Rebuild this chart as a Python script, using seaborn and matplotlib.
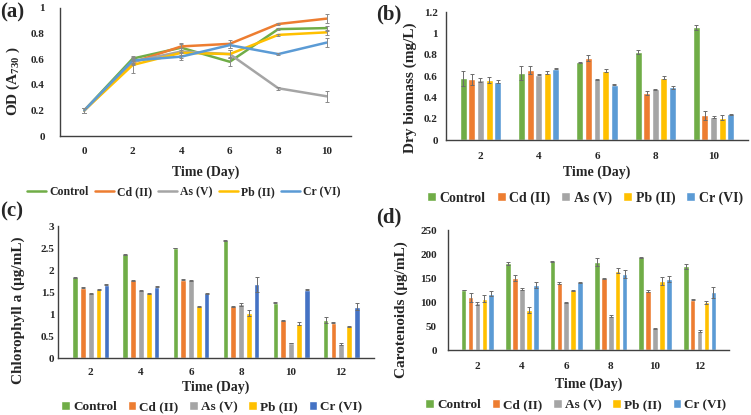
import numpy as np
import pandas as pd
import matplotlib
matplotlib.use('Agg')
import matplotlib.pyplot as plt
import seaborn as sns

# series names and colours (Excel palette)
metals = ['Control', 'Cd (II)', 'As (V)', 'Pb (II)', 'Cr (VI)']
colors = ['#70AD47', '#ED7D31', '#A5A5A5', '#FFC000', '#5B9BD5']
colors_c = ['#70AD47', '#ED7D31', '#A5A5A5', '#FFC000', '#4472C4']

# (a) optical density
od_days = [0, 2, 4, 6, 8, 10]
od_control = [0.20, 0.605, 0.69, 0.58, 0.835, 0.843]
od_cd = [0.20, 0.575, 0.70, 0.72, 0.875, 0.917]
od_as = [0.20, 0.58, 0.66, 0.64, 0.373, 0.31]
od_pb = [0.20, 0.555, 0.65, 0.64, 0.79, 0.81]
od_cr = [0.20, 0.59, 0.62, 0.71, 0.64, 0.73]
od_err_control = [0.02, 0.02, 0.03, 0.035, 0.01, 0.02]
od_err_cd = [0.02, 0.02, 0.03, 0.03, 0.01, 0.033]
od_err_as = [0.02, 0.02, 0.03, 0.03, 0.01, 0.045]
od_err_pb = [0.02, 0.06, 0.04, 0.03, 0.01, 0.02]
od_err_cr = [0.02, 0.02, 0.03, 0.02, 0.01, 0.035]

# (b) dry biomass
bm_days = [2, 4, 6, 8, 10]
bm_control = [0.58, 0.63, 0.73, 0.825, 1.055]
bm_cd = [0.57, 0.655, 0.77, 0.44, 0.23]
bm_as = [0.565, 0.61, 0.57, 0.475, 0.215]
bm_pb = [0.565, 0.63, 0.65, 0.585, 0.21]
bm_cr = [0.545, 0.67, 0.52, 0.495, 0.24]
bm_err_control = [0.07, 0.065, 0.005, 0.015, 0.025]
bm_err_cd = [0.05, 0.035, 0.025, 0.02, 0.045]
bm_err_as = [0.02, 0.005, 0.005, 0.005, 0.01]
bm_err_pb = [0.03, 0.015, 0.015, 0.015, 0.02]
bm_err_cr = [0.015, 0.005, 0.005, 0.015, 0.005]

# (c) chlorophyll a
ch_days = [2, 4, 6, 8, 10, 12]
ch_control = [1.83, 2.36, 2.50, 2.68, 1.26, 0.86]
ch_cd = [1.60, 1.77, 1.78, 1.18, 0.86, 0.80]
ch_as = [1.47, 1.54, 1.77, 1.22, 0.34, 0.32]
ch_pb = [1.56, 1.47, 1.18, 1.02, 0.78, 0.72]
ch_cr = [1.67, 1.62, 1.47, 1.68, 1.55, 1.17]
ch_err_control = [0.01, 0.01, 0.01, 0.01, 0.01, 0.07]
ch_err_cd = [0.01, 0.01, 0.01, 0.01, 0.01, 0.01]
ch_err_as = [0.01, 0.01, 0.01, 0.03, 0.01, 0.03]
ch_err_pb = [0.01, 0.01, 0.01, 0.07, 0.03, 0.01]
ch_err_cr = [0.01, 0.01, 0.01, 0.17, 0.01, 0.08]

# (d) carotenoids
ca_days = [2, 4, 6, 8, 10, 12]
ca_control = [125, 181, 185, 184, 193, 174]
ca_cd = [110, 150, 140, 149, 122, 105]
ca_as = [97, 127, 99, 71, 45, 40]
ca_pb = [107, 83, 124, 165, 144, 99]
ca_cr = [117, 135, 141, 158, 148, 120]
ca_err_control = [1, 3, 1, 8, 1, 6]
ca_err_cd = [9, 6, 2, 2, 2, 1]
ca_err_as = [3, 2, 1, 2, 1, 2]
ca_err_pb = [8, 6, 2, 5, 8, 3]
ca_err_cr = [5, 6, 1, 9, 6, 12]


def long_table(days, series, errs):
    rows = []
    for name, vals, ee in zip(metals, series, errs):
        for d, v, e in zip(days, vals, ee):
            rows.append({'day': d, 'metal': name, 'value': v, 'err': e})
    return pd.DataFrame(rows)


sns.set_theme(style='white')
plt.rcParams['font.family'] = ['Liberation Serif', 'DejaVu Serif']
plt.rcParams['font.weight'] = 'bold'
plt.rcParams['axes.labelweight'] = 'bold'
plt.rcParams['mathtext.fontset'] = 'custom'
plt.rcParams['mathtext.bf'] = 'Liberation Serif:bold'
plt.rcParams['mathtext.rm'] = 'Liberation Serif:bold'

W, H = 751, 415
fig = plt.figure(figsize=(W / 100, H / 100), dpi=100)


def make_ax(left, top, right, bottom):
    return fig.add_axes([left / W, 1 - bottom / H, (right - left) / W, (bottom - top) / H])


def style_ax(ax, ylabel, ylim, ystep, ylab_xy, xlab_y, xpad, ypad):
    ax.set_ylim(*ylim)
    ax.set_yticks(np.arange(ylim[0], ylim[1] + ystep / 2, ystep))
    ax.set_yticklabels(['{:g}'.format(round(t, 2)) for t in ax.get_yticks()])
    ax.set_xlabel('Time (Day)', fontsize=10, fontweight='bold')
    ax.set_ylabel(ylabel, fontsize=11, fontweight='bold')
    ax.yaxis.set_label_coords(*ylab_xy)
    ax.xaxis.set_label_coords(0.5, xlab_y)
    ax.tick_params(axis='both', length=0, labelsize=8)
    ax.tick_params(axis='x', pad=xpad)
    ax.tick_params(axis='y', pad=ypad)
    for lab in ax.get_xticklabels() + ax.get_yticklabels():
        lab.set_fontweight('bold')
    sns.despine(ax=ax)
    for s in ['left', 'bottom']:
        ax.spines[s].set_color('#404040')
        ax.spines[s].set_linewidth(1.0)
    ax.grid(False)


def put_legend(ax, cx, cy, size, spacing, bars=True):
    handles, labels = ax.get_legend_handles_labels()
    kw = dict(handlelength=0.65, handleheight=0.65) if bars else dict(handlelength=1.6)
    ax.legend(handles, labels, loc='center', bbox_to_anchor=(cx / W, 1 - cy / H),
              bbox_transform=fig.transFigure, ncol=5, frameon=False,
              prop={'weight': 'bold', 'size': size}, handletextpad=0.25,
              columnspacing=spacing, borderaxespad=0, **kw)


def bar_panel(ax, days, series, errs, pal, width, gap):
    df = long_table(days, series, errs)
    df['day'] = df['day'].astype(str)
    sns.barplot(data=df, x='day', y='value', hue='metal', palette=pal,
                width=width, gap=gap, errorbar=None, saturation=1, ax=ax)
    for cont, ee in zip(ax.containers, errs):
        xs = [p.get_x() + p.get_width() / 2 for p in cont.patches]
        ys = [p.get_height() for p in cont.patches]
        ax.errorbar(xs, ys, yerr=ee, fmt='none', ecolor='#6b6b6b',
                    elinewidth=0.7, capsize=1.5, capthick=0.7)


# (a)
ax_a = make_ax(60, 8, 351, 136)
df_a = long_table(od_days, [od_control, od_cd, od_as, od_pb, od_cr],
                  [od_err_control, od_err_cd, od_err_as, od_err_pb, od_err_cr])
sns.lineplot(data=df_a, x='day', y='value', hue='metal', palette=colors,
             linewidth=1.8, errorbar=None, ax=ax_a)
for name in metals:
    sub = df_a[df_a['metal'] == name]
    ax_a.errorbar(sub['day'], sub['value'], yerr=sub['err'], fmt='none',
                  ecolor='#8a8a8a', elinewidth=0.7, capsize=1.5, capthick=0.7)
ax_a.set_xlim(-1, 11)
ax_a.set_xticks(od_days)
style_ax(ax_a, r'OD (A$_{\mathbf{730}}$ )', (0, 1), 0.2, (-0.13, 0.43), -0.227, 8, 11)
put_legend(ax_a, 184, 192, 8.5, 0.55, bars=False)

# (b)
ax_b = make_ax(446, 12, 748, 140)
bar_panel(ax_b, bm_days, [bm_control, bm_cd, bm_as, bm_pb, bm_cr],
          [bm_err_control, bm_err_cd, bm_err_as, bm_err_pb, bm_err_cr],
          colors, 0.74, 0.19)
style_ax(ax_b, 'Dry biomass (mg/L)', (0, 1.2), 0.2, (-0.096, 0.406), -0.203, 8.5, 6)
put_legend(ax_b, 585, 198, 10, 0.8)

# (c)
ax_c = make_ax(58, 226, 374, 358)
bar_panel(ax_c, ch_days, [ch_control, ch_cd, ch_as, ch_pb, ch_cr],
          [ch_err_control, ch_err_cd, ch_err_as, ch_err_pb, ch_err_cr],
          colors_c, 0.78, 0.28)
style_ax(ax_c, 'Chlorophyll a (\u03bcg/mL)', (0, 3), 0.5, (-0.104, 0.364), -0.174, 7, 2.5)
put_legend(ax_c, 212, 407, 9.5, 0.8)

# (d)
ax_d = make_ax(448, 230, 729, 350)
bar_panel(ax_d, ca_days, [ca_control, ca_cd, ca_as, ca_pb, ca_cr],
          [ca_err_control, ca_err_cd, ca_err_as, ca_err_pb, ca_err_cr],
          colors, 0.78, 0.18)
style_ax(ax_d, 'Carotenoids (\u03bcg/mL)', (0, 250), 50, (-0.142, 0.333), -0.233, 8.5, 8)
put_legend(ax_d, 576, 405, 9.5, 0.8)

# panel letters
for txt, x, y in [('(a)', 0, 12), ('(b)', 376, 14), ('(c)', 0, 211), ('(d)', 376, 217)]:
    fig.text(x / W, 1 - y / H, txt, fontsize=15, fontweight='bold', va='center', ha='left')

fig.savefig('out.png', dpi=100)
